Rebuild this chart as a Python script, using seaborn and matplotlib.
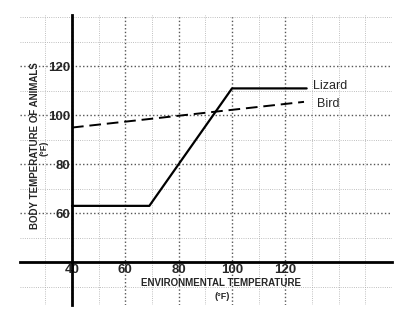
import seaborn as sns
import matplotlib.pyplot as plt
import pandas as pd
from matplotlib.ticker import MultipleLocator

# data
env_lizard = [40, 69, 100, 128]
lizard_temp = [63, 63, 111, 111]
env_bird = [40, 127]
bird_temp = [95, 105.5]
x_ticks = [40, 60, 80, 100, 120]
y_ticks = [60, 80, 100, 120]

sns.set_theme(style="white")
plt.rcParams["font.family"] = ["Liberation Sans", "DejaVu Sans"]

lizard = pd.DataFrame({"env": env_lizard, "body": lizard_temp})
bird = pd.DataFrame({"env": env_bird, "body": bird_temp})

fig = plt.figure(figsize=(4, 3.19), dpi=100)
ax = fig.add_axes([0.05, 0.044, 0.93, 0.909])

sns.lineplot(data=lizard, x="env", y="body", color="black", linewidth=1.6, ax=ax)
sns.lineplot(data=bird, x="env", y="body", color="black", linewidth=1.4,
             linestyle=(0, (6, 3)), ax=ax)

ax.set_xlim(20.5, 160)
ax.set_ylim(22.5, 141)

# axes cross at (40, 40)
for side in ["top", "right"]:
    ax.spines[side].set_visible(False)
ax.spines["left"].set_position(("data", 40))
ax.spines["bottom"].set_position(("data", 40))
for side in ["left", "bottom"]:
    ax.spines[side].set_color("black")
    ax.spines[side].set_linewidth(2)

ax.set_xticks(x_ticks)
ax.set_yticks(y_ticks)
ax.xaxis.set_minor_locator(MultipleLocator(10))
ax.yaxis.set_minor_locator(MultipleLocator(10))
ax.tick_params(axis="both", which="both", length=0, labelsize=9.5, pad=1)
for lab in ax.get_xticklabels() + ax.get_yticklabels():
    lab.set_fontweight("bold")

ax.grid(True, which="major", linestyle=":", linewidth=1.0, color="#555555")
ax.grid(True, which="minor", linestyle=":", linewidth=0.6, color="#aaaaaa")
ax.set_xlabel("")
ax.set_ylabel("")

ax.text(130.2, 111.9, "Lizard", fontsize=9, va="center", ha="left")
ax.text(131.7, 104.6, "Bird", fontsize=9, va="center", ha="left")

fig.text(0.553, 0.112, "ENVIRONMENTAL TEMPERATURE", fontsize=7,
         fontweight="bold", ha="center", va="center")
fig.text(0.555, 0.070, "(°F)", fontsize=6.5, fontweight="bold",
         ha="center", va="center")
fig.text(0.0875, 0.545, "BODY TEMPERATURE OF ANIMALS", fontsize=7,
         fontweight="bold", rotation=90, ha="center", va="center")
fig.text(0.1100, 0.536, "(°F)", fontsize=6.5, fontweight="bold",
         rotation=90, ha="center", va="center")

fig.savefig("out.png", dpi=100)
